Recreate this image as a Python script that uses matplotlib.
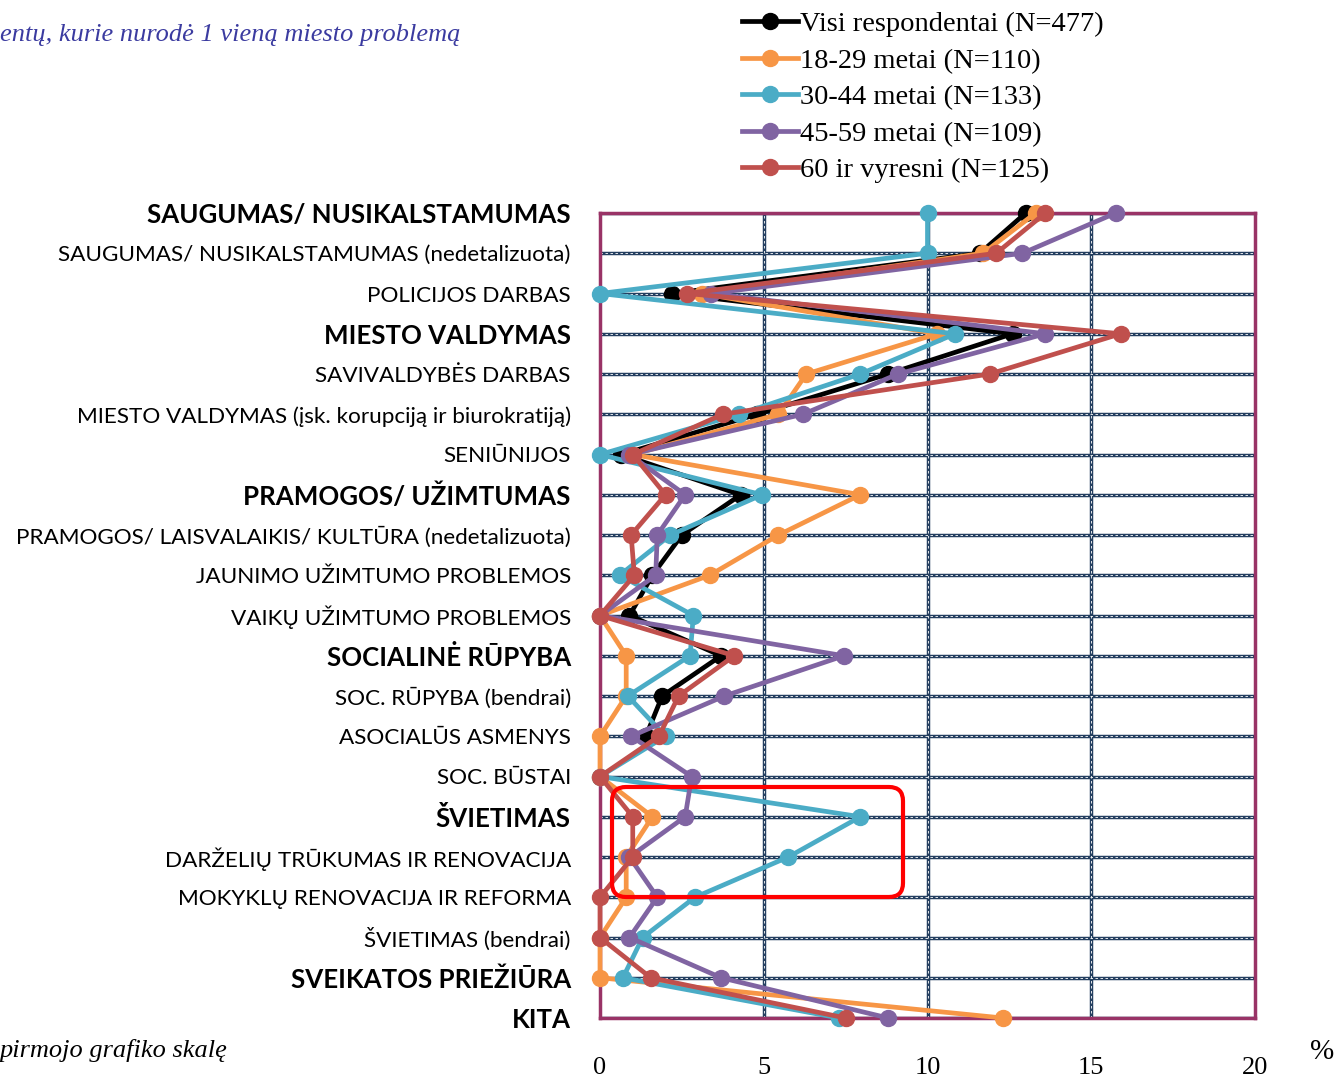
import matplotlib.pyplot as plt
from matplotlib.patches import FancyBboxPatch
import numpy as np

# categories (top to bottom), bold ones are group headers
categories = [
    "SAUGUMAS/ NUSIKALSTAMUMAS",
    "SAUGUMAS/ NUSIKALSTAMUMAS (nedetalizuota)",
    "POLICIJOS DARBAS",
    "MIESTO VALDYMAS",
    "SAVIVALDYBĖS DARBAS",
    "MIESTO VALDYMAS (įsk. korupciją ir biurokratiją)",
    "SENIŪNIJOS",
    "PRAMOGOS/ UŽIMTUMAS",
    "PRAMOGOS/ LAISVALAIKIS/ KULTŪRA (nedetalizuota)",
    "JAUNIMO UŽIMTUMO PROBLEMOS",
    "VAIKŲ UŽIMTUMO PROBLEMOS",
    "SOCIALINĖ RŪPYBA",
    "SOC. RŪPYBA (bendrai)",
    "ASOCIALŪS ASMENYS",
    "SOC. BŪSTAI",
    "ŠVIETIMAS",
    "DARŽELIŲ TRŪKUMAS IR RENOVACIJA",
    "MOKYKLŲ RENOVACIJA IR REFORMA",
    "ŠVIETIMAS (bendrai)",
    "SVEIKATOS PRIEŽIŪRA",
    "KITA",
]
bold_rows = [0, 3, 7, 11, 15, 19, 20]

nan = np.nan
visi = [13.0, 11.6, 2.2, 12.6, 8.8, 4.8, 0.65, 4.3, 2.5, 1.6, 0.9, 3.7, 1.9, 1.4,
        nan, nan, nan, nan, nan, nan, nan]
m18_29 = [13.3, 11.7, 3.1, 10.3, 6.3, 5.45, 1.0, 7.95, 5.45, 3.35, 0.0, 0.8, 0.8, 0.0,
          0.0, 1.6, 0.8, 0.8, 0.0, 0.0, 12.3]
m30_44 = [10.0, 10.0, 0.0, 10.85, 7.95, 4.25, 0.0, 4.95, 2.15, 0.6, 2.85, 2.75, 0.85, 2.0,
          0.0, 7.95, 5.75, 2.9, 1.3, 0.7, 7.3]
m45_59 = [15.75, 12.9, 3.4, 13.6, 9.1, 6.2, 0.9, 2.6, 1.75, 1.7, 0.0, 7.45, 3.8, 0.95,
          2.8, 2.6, 0.9, 1.75, 0.9, 3.7, 8.8]
m60 = [13.6, 12.1, 2.65, 15.9, 11.9, 3.75, 1.0, 2.0, 0.95, 1.05, 0.0, 4.1, 2.4, 1.8,
       0.0, 1.0, 1.0, 0.0, 0.0, 1.55, 7.5]

series = [visi, m18_29, m30_44, m45_59, m60]
names = ["Visi respondentai (N=477)", "18-29 metai (N=110)", "30-44 metai (N=133)",
         "45-59 metai (N=109)", "60 ir vyresni (N=125)"]
colors = ["#000000", "#F79646", "#4BACC6", "#8064A2", "#C0504D"]

xticks = [0, 5, 10, 15, 20]

fig = plt.figure(figsize=(13.4, 10.77), dpi=100)
ax = fig.add_axes([600 / 1340, 1 - 1018 / 1077, 655 / 1340, 805 / 1077])

y = np.arange(len(categories))

# grid: dark navy lines with little white dashes inside
grid_col = "#243F60"
for yy in y:
    ax.axhline(yy, color=grid_col, lw=2.5, zorder=1)
    ax.axhline(yy, color="white", lw=0.6, ls=(0, (3, 3)), zorder=1.1)
for xx in xticks[1:-1]:
    ax.axvline(xx, color=grid_col, lw=2.5, zorder=1)
    ax.axvline(xx, color="white", lw=0.6, ls=(0, (3, 3)), zorder=1.1)

for vals, name, c in zip(series, names, colors):
    ax.plot(vals, y, color=c, lw=3.4, marker="o", ms=11.5, label=name,
            clip_on=False, zorder=3)

ax.set_xlim(0, 20)
ax.set_ylim(20, 0)
ax.set_xticks(xticks)
ax.set_xticklabels([str(v) for v in xticks], family="Liberation Serif", fontsize=19)
ax.set_yticks(y)
ax.set_yticklabels(categories)
for i, lab in enumerate(ax.get_yticklabels()):
    lab.set_family("Lato")
    if i in bold_rows:
        lab.set_fontweight("bold")
        lab.set_fontsize(18.6)
    else:
        lab.set_fontsize(16.2)
ax.tick_params(axis="both", length=0)
ax.tick_params(axis="y", pad=21)
ax.tick_params(axis="x", pad=28)

for s in ax.spines.values():
    s.set_color("#993366")
    s.set_linewidth(2.5)
    s.set_zorder(2)

# red highlight box around the education group
box = FancyBboxPatch((612, 1077 - 897), 291, 110, boxstyle="round,pad=0,rounding_size=14",
                     transform=None, fill=False, edgecolor="#FF0000", lw=3, zorder=5)
fig.patches.append(box)

leg = fig.legend(loc="upper left", bbox_to_anchor=(731 / 1340, 1 - 0 / 1077),
                 frameon=False, prop={"family": "Liberation Serif", "size": 20.5},
                 handlelength=1.95, handletextpad=0.06, labelspacing=0.37,
                 borderaxespad=0)

fig.text(0, 1 - 35 / 1077, "entų, kurie nurodė 1 vieną miesto problemą",
         family="Liberation Serif", style="italic", fontsize=19, color="#3B3BA0",
         va="center", ha="left")
fig.text(0, 1 - 1050 / 1077, "pirmojo grafiko skalę", family="Liberation Serif",
         style="italic", fontsize=19, va="center", ha="left")
fig.text(1322 / 1340, 1 - 1052 / 1077, "%", family="Liberation Serif", fontsize=21,
         va="center", ha="center")

fig.savefig("out.png", dpi=100)
